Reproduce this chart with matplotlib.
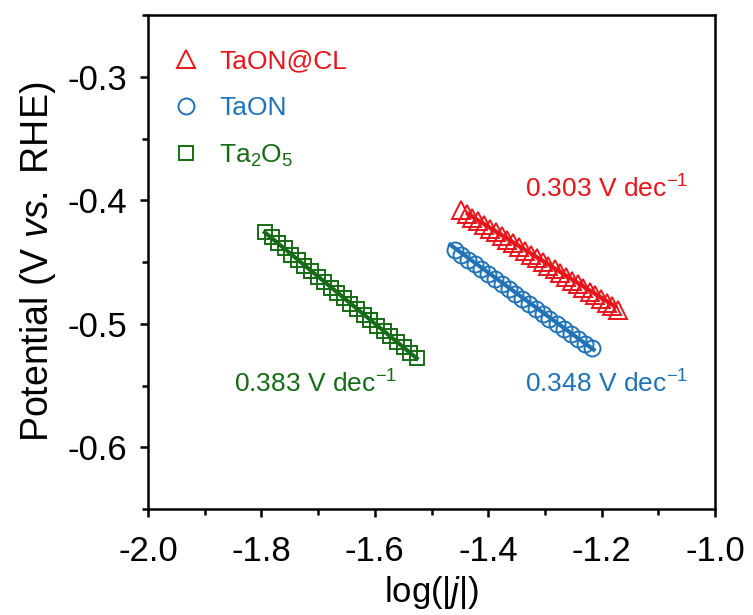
import matplotlib
matplotlib.use("Agg")
import matplotlib.pyplot as plt
from matplotlib.ticker import MultipleLocator

plt.rcParams['font.family'] = ['Liberation Sans', 'DejaVu Sans']
plt.rcParams['mathtext.fontset'] = 'custom'
plt.rcParams['mathtext.rm'] = 'Liberation Sans'
plt.rcParams['mathtext.it'] = 'Liberation Sans:italic'
plt.rcParams['mathtext.default'] = 'regular'

# ---- data ----
series_names = ['TaON@CL', 'TaON', 'Ta$_2$O$_5$']

x_taoncl = [-1.448, -1.438, -1.428, -1.418, -1.407, -1.397, -1.387, -1.376, -1.366, -1.356,
            -1.345, -1.335, -1.325, -1.314, -1.304, -1.294, -1.283, -1.273, -1.263, -1.252,
            -1.242, -1.232, -1.221, -1.211, -1.201, -1.191, -1.181, -1.171]
y_taoncl = [-0.408, -0.411, -0.414, -0.417, -0.420, -0.423, -0.426, -0.429, -0.432, -0.435,
            -0.438, -0.441, -0.444, -0.447, -0.450, -0.453, -0.456, -0.459, -0.462, -0.465,
            -0.468, -0.471, -0.474, -0.477, -0.480, -0.483, -0.486, -0.489]

x_taon = [-1.459, -1.448, -1.436, -1.424, -1.412, -1.400, -1.388, -1.376, -1.364, -1.352,
          -1.340, -1.328, -1.316, -1.304, -1.292, -1.279, -1.267, -1.254, -1.242, -1.229, -1.217]
y_taon = [-0.440, -0.444, -0.448, -0.452, -0.456, -0.460, -0.464, -0.468, -0.472, -0.476,
          -0.480, -0.484, -0.488, -0.492, -0.496, -0.500, -0.504, -0.508, -0.512, -0.516, -0.520]

x_ta2o5 = [-1.794, -1.782, -1.771, -1.759, -1.748, -1.736, -1.724, -1.713, -1.701, -1.689,
           -1.678, -1.666, -1.654, -1.643, -1.631, -1.619, -1.608, -1.596, -1.584, -1.573,
           -1.561, -1.549, -1.538, -1.526]
y_ta2o5 = [-0.426, -0.430, -0.435, -0.439, -0.444, -0.448, -0.453, -0.457, -0.462, -0.466,
           -0.471, -0.475, -0.479, -0.484, -0.488, -0.493, -0.497, -0.502, -0.506, -0.510,
           -0.515, -0.519, -0.524, -0.528]

# linear fit lines (endpoints)
fit_taoncl_x = [-1.436, -1.176]
fit_taoncl_y = [-0.411, -0.486]
fit_taon_x = [-1.467, -1.214]
fit_taon_y = [-0.436, -0.521]
fit_ta2o5_x = [-1.794, -1.526]
fit_ta2o5_y = [-0.426, -0.528]

slope_labels = ['0.303 V dec$^{\u22121}$', '0.348 V dec$^{\u22121}$', '0.383 V dec$^{\u22121}$']

red = '#E8151B'
blue = '#1F73B6'
green = '#166C16'

fig = plt.figure(figsize=(7.53, 6.15), dpi=100)
ax = fig.add_axes([148/753, 1 - 509/615, (715-148)/753, (509-15)/615])

mew = 1.4
ax.plot(x_taoncl, y_taoncl, linestyle='none', marker='^', markersize=12.5, mfc='none',
        mec=red, mew=mew, label=series_names[0])
ax.plot(x_taon, y_taon, linestyle='none', marker='o', markersize=11.5, mfc='none',
        mec=blue, mew=mew, label=series_names[1])
ax.plot(x_ta2o5, y_ta2o5, linestyle='none', marker='s', markersize=10, mfc='none',
        mec=green, mew=mew, label=series_names[2])

ax.plot(fit_taoncl_x, fit_taoncl_y, color=red, lw=3)
ax.plot(fit_taon_x, fit_taon_y, color=blue, lw=3)
ax.plot(fit_ta2o5_x, fit_ta2o5_y, color=green, lw=3)

ax.text(-1.192, -0.391, slope_labels[0], color=red, fontsize=19, ha='center', va='center')
ax.text(-1.192, -0.549, slope_labels[1], color=blue, fontsize=19, ha='center', va='center')
ax.text(-1.704, -0.549, slope_labels[2], color=green, fontsize=19, ha='center', va='center')

ax.set_xlim(-2.0, -1.0)
ax.set_ylim(-0.65, -0.25)
ax.xaxis.set_major_locator(MultipleLocator(0.2))
ax.xaxis.set_minor_locator(MultipleLocator(0.1))
ax.yaxis.set_major_locator(MultipleLocator(0.1))
ax.yaxis.set_minor_locator(MultipleLocator(0.05))
ax.xaxis.set_major_formatter(matplotlib.ticker.FuncFormatter(lambda v, p: f'{v:.1f}'))
ax.yaxis.set_major_formatter(matplotlib.ticker.FuncFormatter(lambda v, p: f'{v:.1f}'))

for s in ax.spines.values():
    s.set_linewidth(1.8)
ax.tick_params(which='major', direction='out', length=6, width=1.8, labelsize=25)
ax.tick_params(axis='x', which='major', pad=13)
ax.tick_params(axis='y', which='major', pad=9)
ax.tick_params(which='minor', direction='out', length=4, width=1.8)

ax.set_xlabel('log(|$\\mathit{j}$|)', fontsize=25, labelpad=4)
ax.set_ylabel('Potential (V $\\mathit{vs.}$ RHE)', fontsize=27, labelpad=7)

leg = ax.legend(loc='upper left', bbox_to_anchor=(0.044, 0.93), frameon=False,
                fontsize=19, handlelength=1.0, handletextpad=0.75, labelspacing=0.85,
                borderpad=0, borderaxespad=0, labelcolor='markeredgecolor')

fig.savefig('out.png', dpi=100)
